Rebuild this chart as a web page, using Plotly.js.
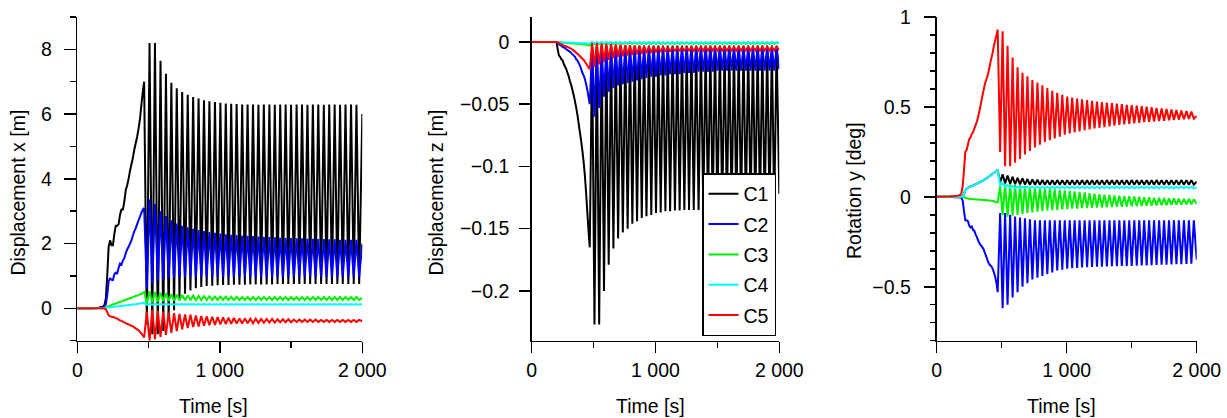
<!DOCTYPE html>
<html>
<head>
<meta charset="utf-8">
<script src="https://cdn.plot.ly/plotly-3.0.1.min.js"></script>
<style>html,body{margin:0;padding:0;background:#fff}#chart{width:1227px;height:418px}</style>
</head>
<body>
<div id="chart"></div>
<script>
// ---------- DATA ----------
const seriesNames = ['C1', 'C2', 'C3', 'C4', 'C5'];
const seriesColors = ['#000000', '#0000ff', '#00f000', '#00ffff', '#ff0000'];

// time samples of the start-up ramp [s]
const RAMP_T = [0, 100, 150, 180, 190, 200, 210, 220, 230, 240, 250, 260, 270, 280, 290, 300,
  310, 320, 330, 340, 350, 360, 370, 380, 390, 400, 410, 420, 430, 440, 450, 460];
// times of successive extrema of the oscillating phase [s]
const OSC_T = [469, 488, 507, 526, 545, 565, 584, 603, 622, 641,
  660, 679, 698, 717, 736, 756, 775, 794, 813, 832,
  851, 870, 889, 908, 927, 947, 966, 985, 1004, 1023,
  1042, 1061, 1080, 1099, 1118, 1138, 1157, 1176, 1195, 1214,
  1233, 1252, 1271, 1290, 1309, 1329, 1348, 1367, 1386, 1405,
  1424, 1443, 1462, 1481, 1500, 1520, 1539, 1558, 1577, 1596,
  1615, 1634, 1653, 1672, 1691, 1711, 1730, 1749, 1768, 1787,
  1806, 1825, 1844, 1863, 1882, 1902, 1921, 1940, 1959, 1978, 2000];

// ---- Displacement x [m] ----
const dx_C1_ramp = [0, 0.005, 0.02, 0.05, 0.1, 0.3, 1.0, 1.9, 2.1, 1.95, 1.95, 2.3, 2.55, 2.55, 2.6, 2.9,
  3.05, 3.05, 3.3, 3.65, 3.8, 4.0, 4.25, 4.45, 4.65, 4.9, 5.1, 5.3, 5.55, 5.85, 6.3, 6.7];
const dx_C1_osc = [7.0,-0.5, 8.2,-0.8, 8.2,-0.8, 7.65,-0.7, 7.25,-0.4,
  6.97,-0.06, 6.8,0.3, 6.68,0.45, 6.6,0.55, 6.53,0.62,
  6.48,0.66, 6.43,0.69, 6.4,0.7, 6.37,0.71, 6.35,0.72,
  6.33,0.72, 6.32,0.73, 6.31,0.73, 6.3,0.73, 6.3,0.74,
  6.3,0.74, 6.29,0.74, 6.3,0.74, 6.3,0.74, 6.29,0.75,
  6.3,0.75, 6.3,0.75, 6.29,0.75, 6.3,0.75, 6.3,0.75,
  6.29,0.75, 6.3,0.75, 6.3,0.75, 6.29,0.75, 6.3,0.75,
  6.3,0.75, 6.29,0.75, 6.3,0.75, 6.3,0.75, 6.29,0.75,
  6.0];
const dx_C2_ramp = [0, 0.005, 0.01, 0.03, 0.05, 0.12, 0.4, 0.85, 0.92, 0.88, 0.87, 1.05, 1.1, 1.08, 1.25, 1.38,
  1.35, 1.48, 1.55, 1.7, 1.82, 1.9, 2.0, 2.1, 2.25, 2.38, 2.48, 2.6, 2.72, 2.83, 2.95, 3.05];
const dx_C2_osc = [3.1,0.62, 3.37,0.75, 3.22,0.85, 3.0,0.9, 2.85,0.93,
  2.72,0.95, 2.62,0.96, 2.55,0.97, 2.5,0.97, 2.46,0.97,
  2.42,0.97, 2.39,0.97, 2.36,0.97, 2.33,0.97, 2.31,0.97,
  2.29,0.97, 2.27,0.97, 2.26,0.97, 2.25,0.97, 2.24,0.97,
  2.23,0.97, 2.22,0.97, 2.21,0.97, 2.2,0.97, 2.19,0.97,
  2.18,0.97, 2.17,0.97, 2.17,0.97, 2.16,0.97, 2.16,0.97,
  2.15,0.97, 2.15,0.97, 2.14,0.97, 2.14,0.97, 2.13,0.97,
  2.13,0.97, 2.12,0.97, 2.12,0.97, 2.12,0.97, 2.12,0.97,
  2.0];
const dx_C3_ramp = [0, 0, 0, 0.01, 0.02, 0.03, 0.05, 0.065, 0.08, 0.1, 0.12, 0.135, 0.15, 0.165, 0.185, 0.2,
  0.215, 0.23, 0.25, 0.265, 0.28, 0.295, 0.31, 0.325, 0.345, 0.36, 0.38, 0.395, 0.415, 0.43, 0.45, 0.475];
const dx_C3_osc = [0.5,0.15, 0.52,0.18, 0.5,0.2, 0.48,0.22, 0.46,0.23,
  0.44,0.24, 0.42,0.245, 0.41,0.25, 0.4,0.25, 0.39,0.255,
  0.38,0.255, 0.375,0.26, 0.37,0.26, 0.365,0.26, 0.36,0.26,
  0.36,0.26, 0.355,0.26, 0.355,0.26, 0.35,0.26, 0.35,0.26,
  0.35,0.26, 0.35,0.26, 0.35,0.26, 0.35,0.26, 0.35,0.26,
  0.35,0.26, 0.35,0.26, 0.35,0.26, 0.35,0.26, 0.35,0.26,
  0.35,0.26, 0.35,0.26, 0.35,0.26, 0.35,0.26, 0.35,0.26,
  0.35,0.26, 0.35,0.26, 0.35,0.26, 0.35,0.26, 0.35,0.26,
  0.32];
const dx_C4_ramp = [0, 0, 0, 0.005, 0.01, 0.015, 0.02, 0.03, 0.035, 0.04, 0.045, 0.05, 0.055, 0.06, 0.065, 0.07,
  0.075, 0.08, 0.085, 0.09, 0.095, 0.1, 0.105, 0.11, 0.115, 0.12, 0.125, 0.13, 0.14, 0.15, 0.155, 0.165];
const dx_C4_osc = [0.17,0.11, 0.14,0.115, 0.135,0.118, 0.13,0.12, 0.13,0.12,
  0.128,0.12, 0.128,0.12, 0.128,0.12, 0.128,0.12, 0.128,0.12,
  0.128,0.12, 0.128,0.12, 0.128,0.12, 0.128,0.12, 0.128,0.12,
  0.128,0.12, 0.128,0.12, 0.128,0.12, 0.128,0.12, 0.128,0.12,
  0.128,0.12, 0.128,0.12, 0.128,0.12, 0.128,0.12, 0.128,0.12,
  0.128,0.12, 0.128,0.12, 0.128,0.12, 0.128,0.12, 0.128,0.12,
  0.128,0.12, 0.128,0.12, 0.128,0.12, 0.128,0.12, 0.128,0.12,
  0.128,0.12, 0.128,0.12, 0.128,0.12, 0.128,0.12, 0.128,0.12,
  0.125];
const dx_C5_ramp = [0, 0, 0, 0, -0.005, -0.03, -0.12, -0.22, -0.24, -0.26, -0.27, -0.28, -0.3, -0.32, -0.35, -0.37,
  -0.39, -0.41, -0.43, -0.46, -0.48, -0.5, -0.52, -0.54, -0.56, -0.59, -0.62, -0.65, -0.68, -0.73, -0.78, -0.84];
const dx_C5_osc = [-0.9,-0.1, -1.0,-0.05, -0.95,-0.08, -0.88,-0.1, -0.82,-0.13,
  -0.76,-0.15, -0.7,-0.17, -0.65,-0.19, -0.61,-0.2, -0.58,-0.22,
  -0.56,-0.24, -0.54,-0.25, -0.52,-0.26, -0.51,-0.27, -0.5,-0.28,
  -0.49,-0.29, -0.48,-0.3, -0.47,-0.31, -0.47,-0.31, -0.46,-0.32,
  -0.46,-0.32, -0.45,-0.33, -0.45,-0.33, -0.44,-0.33, -0.44,-0.34,
  -0.43,-0.34, -0.43,-0.34, -0.43,-0.35, -0.42,-0.35, -0.42,-0.35,
  -0.42,-0.35, -0.42,-0.35, -0.42,-0.36, -0.42,-0.36, -0.42,-0.36,
  -0.42,-0.36, -0.42,-0.36, -0.42,-0.36, -0.42,-0.36, -0.42,-0.36,
  -0.4];

// ---- Displacement z [m] ----
const dz_C1_ramp = [0, 0, 0, 0, 0, 0, -0.006, -0.011, -0.012, -0.014, -0.015, -0.018, -0.02, -0.022, -0.025, -0.028,
  -0.032, -0.035, -0.039, -0.043, -0.048, -0.053, -0.059, -0.066, -0.073, -0.08, -0.088, -0.097, -0.108, -0.122, -0.138, -0.153];
const dz_C1_osc = [-0.165,-0.004, -0.227,-0.004, -0.227,-0.003, -0.2,-0.003, -0.179,-0.003,
  -0.166,-0.003, -0.158,-0.003, -0.153,-0.003, -0.15,-0.003, -0.146,-0.003,
  -0.144,-0.003, -0.1415,-0.003, -0.14,-0.003, -0.139,-0.003, -0.1375,-0.003,
  -0.137,-0.003, -0.136,-0.003, -0.136,-0.003, -0.1355,-0.003, -0.1355,-0.003,
  -0.135,-0.003, -0.135,-0.003, -0.135,-0.003, -0.135,-0.003, -0.135,-0.003,
  -0.135,-0.003, -0.135,-0.003, -0.135,-0.003, -0.135,-0.003, -0.135,-0.003,
  -0.135,-0.003, -0.135,-0.003, -0.135,-0.003, -0.135,-0.003, -0.135,-0.003,
  -0.135,-0.003, -0.135,-0.003, -0.135,-0.003, -0.135,-0.003, -0.135,-0.003,
  -0.122];
const dz_C2_ramp = [0, 0, 0, 0, 0, 0, -0.001, -0.002, -0.0025, -0.003, -0.004, -0.0045, -0.005, -0.006, -0.0065, -0.0075,
  -0.008, -0.009, -0.01, -0.011, -0.012, -0.014, -0.015, -0.017, -0.019, -0.022, -0.025, -0.027, -0.03, -0.034, -0.039, -0.045];
const dz_C2_osc = [-0.05,-0.004, -0.06,-0.004, -0.053,-0.004, -0.044,-0.004, -0.04,-0.004,
  -0.037,-0.004, -0.035,-0.004, -0.034,-0.004, -0.033,-0.004, -0.032,-0.004,
  -0.031,-0.004, -0.03,-0.004, -0.029,-0.004, -0.028,-0.004, -0.028,-0.004,
  -0.027,-0.004, -0.027,-0.004, -0.026,-0.004, -0.026,-0.004, -0.026,-0.004,
  -0.025,-0.004, -0.025,-0.004, -0.025,-0.004, -0.024,-0.004, -0.024,-0.004,
  -0.024,-0.004, -0.024,-0.004, -0.023,-0.004, -0.023,-0.004, -0.023,-0.004,
  -0.023,-0.004, -0.023,-0.004, -0.023,-0.004, -0.023,-0.004, -0.023,-0.004,
  -0.023,-0.004, -0.023,-0.004, -0.023,-0.004, -0.023,-0.004, -0.023,-0.004,
  -0.022];
const dz_C3_ramp = [0, 0, 0, 0, 0, 0, -0.0002, -0.0003, -0.0004, -0.0005, -0.0006, -0.0007, -0.0008, -0.0009, -0.001, -0.001,
  -0.0011, -0.0012, -0.0013, -0.0013, -0.0014, -0.0015, -0.0015, -0.0016, -0.0017, -0.0018, -0.0019, -0.002, -0.0022, -0.0024, -0.0026, -0.0028];
const dz_C3_osc = [-0.003,-0.0005, -0.002,-0.0005, -0.0018,-0.0005, -0.0016,-0.0005, -0.0015,-0.0005,
  -0.0015,-0.0005, -0.0015,-0.0005, -0.0015,-0.0005, -0.0015,-0.0005, -0.0015,-0.0005,
  -0.0015,-0.0005, -0.0015,-0.0005, -0.0015,-0.0005, -0.0015,-0.0005, -0.0015,-0.0005,
  -0.0015,-0.0005, -0.0015,-0.0005, -0.0015,-0.0005, -0.0015,-0.0005, -0.0015,-0.0005,
  -0.0015,-0.0005, -0.0015,-0.0005, -0.0015,-0.0005, -0.0015,-0.0005, -0.0015,-0.0005,
  -0.0015,-0.0005, -0.0015,-0.0005, -0.0015,-0.0005, -0.0015,-0.0005, -0.0015,-0.0005,
  -0.0015,-0.0005, -0.0015,-0.0005, -0.0015,-0.0005, -0.0015,-0.0005, -0.0015,-0.0005,
  -0.0015,-0.0005, -0.0015,-0.0005, -0.0015,-0.0005, -0.0015,-0.0005, -0.0015,-0.0005,
  -0.0012];
const dz_C4_ramp = [0, 0, 0, 0, 0, 0, -0.0001, -0.0002, -0.0002, -0.0003, -0.0003, -0.0004, -0.0004, -0.0005, -0.0005, -0.0005,
  -0.0006, -0.0006, -0.0007, -0.0007, -0.0008, -0.0008, -0.0008, -0.0009, -0.0009, -0.001, -0.001, -0.001, -0.0011, -0.0011, -0.0012, -0.0012];
const dz_C4_osc = [-0.0012,-0.0002, -0.0011,-0.0002, -0.001,-0.0002, -0.001,-0.0002, -0.001,-0.0002,
  -0.001,-0.0002, -0.001,-0.0002, -0.001,-0.0002, -0.001,-0.0002, -0.001,-0.0002,
  -0.001,-0.0002, -0.001,-0.0002, -0.001,-0.0002, -0.001,-0.0002, -0.001,-0.0002,
  -0.001,-0.0002, -0.001,-0.0002, -0.001,-0.0002, -0.001,-0.0002, -0.001,-0.0002,
  -0.001,-0.0002, -0.001,-0.0002, -0.001,-0.0002, -0.001,-0.0002, -0.001,-0.0002,
  -0.001,-0.0002, -0.001,-0.0002, -0.001,-0.0002, -0.001,-0.0002, -0.001,-0.0002,
  -0.001,-0.0002, -0.001,-0.0002, -0.001,-0.0002, -0.001,-0.0002, -0.001,-0.0002,
  -0.001,-0.0002, -0.001,-0.0002, -0.001,-0.0002, -0.001,-0.0002, -0.001,-0.0002,
  -0.0008];
const dz_C5_ramp = [0, 0, 0, 0, 0, 0, -0.0004, -0.0008, -0.0015, -0.002, -0.0025, -0.003, -0.0033, -0.0037, -0.004, -0.0045,
  -0.005, -0.0055, -0.0062, -0.007, -0.0078, -0.0088, -0.0096, -0.0105, -0.0115, -0.0125, -0.0135, -0.0145, -0.016, -0.0175, -0.019, -0.0205];
const dz_C5_osc = [-0.022,-0.001, -0.02,-0.001, -0.018,-0.0012, -0.016,-0.0015, -0.0145,-0.0018,
  -0.013,-0.002, -0.012,-0.0022, -0.0115,-0.0025, -0.011,-0.0027, -0.0105,-0.003,
  -0.01,-0.0032, -0.0095,-0.0034, -0.009,-0.0035, -0.0088,-0.0036, -0.0085,-0.0037,
  -0.0083,-0.0038, -0.008,-0.004, -0.0078,-0.004, -0.0076,-0.004, -0.0075,-0.004,
  -0.0074,-0.004, -0.0073,-0.004, -0.0072,-0.004, -0.0072,-0.004, -0.0071,-0.004,
  -0.007,-0.004, -0.007,-0.004, -0.007,-0.004, -0.007,-0.004, -0.007,-0.004,
  -0.007,-0.004, -0.007,-0.004, -0.007,-0.004, -0.007,-0.004, -0.007,-0.004,
  -0.007,-0.004, -0.007,-0.004, -0.007,-0.004, -0.007,-0.004, -0.007,-0.004,
  -0.0065];

// ---- Rotation y [deg] ----
const ry_C1_ramp = [0, 0, 0, 0.001, 0.001, 0.002, 0.015, 0.038, 0.045, 0.05, 0.055, 0.058, 0.06, 0.063, 0.066, 0.07,
  0.074, 0.077, 0.08, 0.084, 0.088, 0.092, 0.097, 0.102, 0.107, 0.112, 0.117, 0.122, 0.128, 0.133, 0.138, 0.144];
const ry_C1_osc = [0.15,0.08, 0.125,0.075, 0.118,0.072, 0.112,0.07, 0.106,0.069,
  0.102,0.068, 0.099,0.067, 0.097,0.067, 0.095,0.067, 0.094,0.067,
  0.093,0.067, 0.093,0.067, 0.093,0.067, 0.093,0.067, 0.093,0.067,
  0.093,0.067, 0.093,0.067, 0.093,0.067, 0.093,0.067, 0.093,0.067,
  0.093,0.067, 0.093,0.067, 0.093,0.067, 0.093,0.067, 0.093,0.067,
  0.093,0.067, 0.093,0.067, 0.093,0.067, 0.093,0.067, 0.093,0.067,
  0.093,0.067, 0.093,0.067, 0.093,0.067, 0.093,0.067, 0.093,0.067,
  0.093,0.067, 0.093,0.067, 0.093,0.067, 0.093,0.067, 0.093,0.067,
  0.085];
const ry_C2_ramp = [0, -0.001, -0.002, -0.004, -0.006, -0.02, -0.08, -0.13, -0.13, -0.135, -0.16, -0.17, -0.165, -0.185, -0.19, -0.21,
  -0.225, -0.245, -0.26, -0.27, -0.28, -0.29, -0.31, -0.33, -0.35, -0.37, -0.38, -0.385, -0.4, -0.42, -0.445, -0.48];
const ry_C2_osc = [-0.53,-0.09, -0.62,-0.09, -0.6,-0.1, -0.56,-0.11, -0.53,-0.115,
  -0.5,-0.12, -0.48,-0.125, -0.46,-0.13, -0.45,-0.13, -0.44,-0.13,
  -0.43,-0.13, -0.42,-0.13, -0.41,-0.13, -0.405,-0.13, -0.4,-0.13,
  -0.397,-0.13, -0.395,-0.13, -0.393,-0.13, -0.391,-0.13, -0.39,-0.13,
  -0.389,-0.13, -0.388,-0.13, -0.387,-0.13, -0.386,-0.13, -0.386,-0.13,
  -0.385,-0.13, -0.385,-0.13, -0.384,-0.13, -0.383,-0.13, -0.382,-0.13,
  -0.381,-0.13, -0.38,-0.13, -0.379,-0.13, -0.378,-0.13, -0.377,-0.13,
  -0.376,-0.13, -0.375,-0.13, -0.374,-0.13, -0.373,-0.13, -0.372,-0.13,
  -0.35];
const ry_C3_ramp = [0, 0, 0, 0, 0, 0, -0.002, -0.005, -0.008, -0.01, -0.011, -0.012, -0.013, -0.013, -0.014, -0.014,
  -0.015, -0.015, -0.016, -0.016, -0.017, -0.017, -0.018, -0.019, -0.019, -0.02, -0.021, -0.022, -0.023, -0.025, -0.027, -0.03];
const ry_C3_osc = [-0.03,0.06, -0.1,0.07, -0.11,0.068, -0.105,0.066, -0.1,0.063,
  -0.095,0.06, -0.09,0.057, -0.086,0.054, -0.082,0.051, -0.079,0.048,
  -0.076,0.045, -0.074,0.042, -0.072,0.039, -0.07,0.036, -0.068,0.033,
  -0.066,0.03, -0.065,0.027, -0.063,0.024, -0.062,0.021, -0.061,0.018,
  -0.06,0.015, -0.059,0.012, -0.058,0.01, -0.057,0.008, -0.056,0.006,
  -0.055,0.004, -0.054,0.003, -0.053,0.002, -0.052,0.0, -0.051,-0.002,
  -0.05,-0.003, -0.049,-0.005, -0.048,-0.006, -0.047,-0.007, -0.046,-0.008,
  -0.045,-0.009, -0.044,-0.01, -0.043,-0.011, -0.042,-0.012, -0.041,-0.013,
  -0.04];
const ry_C4_ramp = [0, 0, 0, 0.001, 0.001, 0.002, 0.015, 0.038, 0.045, 0.05, 0.055, 0.058, 0.06, 0.063, 0.066, 0.07,
  0.074, 0.077, 0.08, 0.084, 0.088, 0.092, 0.097, 0.102, 0.107, 0.112, 0.117, 0.122, 0.128, 0.133, 0.138, 0.144];
const ry_C4_osc = [0.15,0.065, 0.075,0.055, 0.065,0.05, 0.06,0.048, 0.058,0.047,
  0.056,0.047, 0.056,0.047, 0.056,0.047, 0.056,0.047, 0.056,0.047,
  0.056,0.047, 0.056,0.047, 0.056,0.047, 0.056,0.047, 0.056,0.047,
  0.056,0.047, 0.056,0.047, 0.056,0.047, 0.056,0.047, 0.056,0.047,
  0.056,0.047, 0.056,0.047, 0.056,0.047, 0.056,0.047, 0.056,0.047,
  0.056,0.047, 0.056,0.047, 0.056,0.047, 0.056,0.047, 0.056,0.047,
  0.056,0.047, 0.056,0.047, 0.056,0.047, 0.056,0.047, 0.056,0.047,
  0.056,0.047, 0.056,0.047, 0.056,0.047, 0.056,0.047, 0.056,0.047,
  0.052];
const ry_C5_ramp = [0, 0.002, 0.004, 0.01, 0.02, 0.06, 0.15, 0.25, 0.26, 0.29, 0.32, 0.33, 0.35, 0.36, 0.38, 0.4,
  0.42, 0.45, 0.48, 0.52, 0.555, 0.59, 0.625, 0.65, 0.67, 0.7, 0.735, 0.77, 0.8, 0.84, 0.87, 0.9];
const ry_C5_osc = [0.93,0.25, 0.92,0.17, 0.84,0.17, 0.775,0.19, 0.72,0.21,
  0.69,0.235, 0.67,0.255, 0.65,0.275, 0.635,0.29, 0.62,0.305,
  0.605,0.315, 0.59,0.325, 0.578,0.335, 0.567,0.345, 0.558,0.352,
  0.552,0.358, 0.547,0.364, 0.542,0.37, 0.538,0.375, 0.534,0.38,
  0.53,0.384, 0.527,0.388, 0.524,0.392, 0.521,0.396, 0.518,0.4,
  0.515,0.403, 0.512,0.406, 0.51,0.409, 0.507,0.412, 0.504,0.415,
  0.501,0.417, 0.498,0.419, 0.495,0.421, 0.492,0.423, 0.489,0.425,
  0.486,0.427, 0.483,0.429, 0.48,0.431, 0.477,0.433, 0.474,0.435,
  0.45];

// axis ranges and titles
const xRange = [0, 2000];
const dxRange = [-1, 9];
const dzRange = [-0.24, 0.02];
const ryRange = [-0.8, 1];
const axisTitles = {x: 'Time [s]', dx: 'Displacement x [m]', dz: 'Displacement z [m]', ry: 'Rotation y [deg]'};

// ---------- BUILD ----------
const TIME = RAMP_T.concat(OSC_T);
const panels = [
  {xa: 'x', ya: 'y', ramps: [dx_C1_ramp, dx_C2_ramp, dx_C3_ramp, dx_C4_ramp, dx_C5_ramp],
   oscs: [dx_C1_osc, dx_C2_osc, dx_C3_osc, dx_C4_osc, dx_C5_osc], legend: false},
  {xa: 'x2', ya: 'y2', ramps: [dz_C1_ramp, dz_C2_ramp, dz_C3_ramp, dz_C4_ramp, dz_C5_ramp],
   oscs: [dz_C1_osc, dz_C2_osc, dz_C3_osc, dz_C4_osc, dz_C5_osc], legend: true},
  {xa: 'x3', ya: 'y3', ramps: [ry_C1_ramp, ry_C2_ramp, ry_C3_ramp, ry_C4_ramp, ry_C5_ramp],
   oscs: [ry_C1_osc, ry_C2_osc, ry_C3_osc, ry_C4_osc, ry_C5_osc], legend: false}
];
const traces = [];
panels.forEach(p => {
  seriesNames.forEach((n, i) => {
    traces.push({
      type: 'scatter', mode: 'lines', x: TIME, y: p.ramps[i].concat(p.oscs[i]),
      xaxis: p.xa, yaxis: p.ya, name: n, legendgroup: n, showlegend: p.legend,
      line: {color: seriesColors[i], width: 2, simplify: false}, hoverinfo: 'skip'
    });
  });
});
// empty traces that carry the overlay axes used for the visible tick marks
[['x4', 'y4'], ['x5', 'y5'], ['x6', 'y6']].forEach(([a, b]) => {
  traces.push({type: 'scatter', mode: 'lines', x: [], y: [], xaxis: a, yaxis: b, showlegend: false, hoverinfo: 'skip'});
});

const W = 1227, H = 418;
const px = v => v / W, py = v => 1 - v / H;
const FONT = 'Liberation Sans, Arial, Helvetica, sans-serif';
const FS = 19.5;
const yDom = [py(340.7), py(17)];
const d1 = [px(77.3), px(362.3)], d2 = [px(531.7), px(779.3)], d3 = [px(936.7), px(1196.7)];
const CLEAR = 'rgba(0,0,0,0)';

const base = {showgrid: false, zeroline: false, tickwidth: 1.5, ticks: 'outside'};
// main x axes: line, major ticks and labels
function xAxis(dom, anchor) {
  return Object.assign({}, base, {domain: dom, anchor: anchor, range: xRange, showline: true, linecolor: '#000',
    linewidth: 1.5, tickcolor: '#000', ticklen: 11, dtick: 1000, tick0: 0, separatethousands: true,
    ticklabelstandoff: 2.5, tickfont: {family: FONT, size: FS, color: '#000'}});
}
// main y axes: line and labels; their (invisible) ticks only set the label offset
function yAxis(dom, anchor, range, dtick, labelGap) {
  return Object.assign({}, base, {domain: dom, anchor: anchor, range: range, showline: true, linecolor: '#000',
    linewidth: 1.5, tickcolor: CLEAR, ticklen: labelGap, dtick: dtick, tick0: 0,
    tickfont: {family: FONT, size: FS, color: '#000'}});
}
// overlay x axes: minor ticks
function minorX(dom, anchor, over) {
  return Object.assign({}, base, {domain: dom, anchor: anchor, overlaying: over, range: xRange,
    showline: false, showticklabels: false, tickcolor: '#000', ticklen: 6, dtick: 500, tick0: 0});
}
// overlay y axes: visible major + minor ticks
function tickY(dom, anchor, over, range, dtick, minorDtick) {
  const a = Object.assign({}, base, {domain: dom, anchor: anchor, overlaying: over, range: range, side: 'left',
    showline: false, showticklabels: false, tickcolor: '#000', ticklen: 12, dtick: dtick, tick0: 0});
  if (minorDtick) a.minor = {dtick: minorDtick, tick0: 0, ticks: 'outside', ticklen: 6, tickwidth: 1.5, tickcolor: '#000', showgrid: false};
  return a;
}

const ann = (text, x, y, angle) => ({text: text, xref: 'paper', yref: 'paper', x: px(x), y: py(y),
  xanchor: 'center', yanchor: 'middle', showarrow: false, textangle: angle,
  font: {family: FONT, size: FS, color: '#000'}});

const layout = {
  width: W, height: H, margin: {l: 0, r: 0, t: 0, b: 0},
  paper_bgcolor: '#fff', plot_bgcolor: CLEAR, separators: '. ',
  font: {family: FONT, size: FS, color: '#000'},
  xaxis: xAxis(d1, 'y'), xaxis2: xAxis(d2, 'y2'), xaxis3: xAxis(d3, 'y3'),
  yaxis: yAxis(yDom, 'x', dxRange, 2, 20),
  yaxis2: yAxis(yDom, 'x2', dzRange, 0.05, 17),
  yaxis3: yAxis(yDom, 'x3', ryRange, 0.5, 20.5),
  xaxis4: minorX(d1, 'y4', 'x'), xaxis5: minorX(d2, 'y5', 'x2'), xaxis6: minorX(d3, 'y6', 'x3'),
  yaxis4: tickY(yDom, 'x4', 'y', dxRange, 2, 1),
  yaxis5: tickY(yDom, 'x5', 'y2', dzRange, 0.05, null),
  yaxis6: tickY(yDom, 'x6', 'y3', ryRange, 0.5, 0.1),
  showlegend: true,
  legend: {x: px(702), y: py(173), xanchor: 'left', yanchor: 'top', bgcolor: '#fff',
    bordercolor: '#000', borderwidth: 1.5, tracegroupgap: 2,
    font: {family: FONT, size: FS, color: '#000'}},
  annotations: [
    ann(axisTitles.dx, 17, 192.5, -90), ann(axisTitles.dz, 435, 192.5, -90), ann(axisTitles.ry, 854, 191, -90),
    ann(axisTitles.x, 213, 405.5, 0), ann(axisTitles.x, 650, 405.5, 0), ann(axisTitles.x, 1061, 405.5, 0)
  ]
};

Plotly.newPlot('chart', traces, layout, {staticPlot: true, displayModeBar: false});
</script>
</body>
</html>
